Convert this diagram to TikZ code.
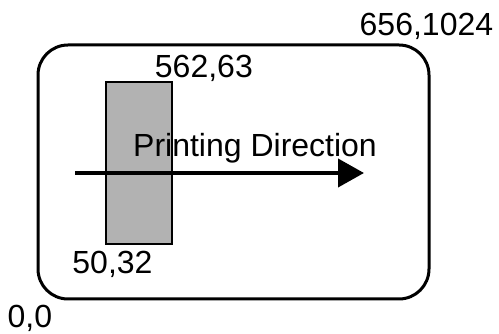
\documentclass[tikz,border=0pt]{standalone}
\usepackage{fontspec}
\setmainfont{Liberation Sans}
\usetikzlibrary{positioning, arrows.meta}

\begin{document}
\begin{tikzpicture}[x=1pt, y=1pt, card/.style={draw, line width=3pt, rounded corners=30pt, minimum width=391pt, minimum height=254pt, inner sep=0pt}, band/.style={draw, fill=black!30, line width=1.5pt, minimum width=66pt, minimum height=162pt, inner sep=0pt}, lbl/.style={inner sep=0pt, anchor=base west, font=\fontsize{32}{38}\selectfont}, dir/.style={line width=4pt, -{Triangle[length=26pt, width=28pt]}}]
		\useasboundingbox (0,0) rectangle (499,334);
		\node[card] (card) at (233.5,162) {};
		\node[band] (strip) at (139,171) {};
		\coordinate (start) at (75,161);
		\coordinate (end) at (364,161);

		\draw[dir] (start) -- (end);

		\node[lbl] (dir_label) at (133,177) {Printing Direction};
		\node[lbl] (top_label) at ([shift={(-71,8)}]card.north east) {656,1024};
		\node[lbl] (strip_top) at ([shift={(-18,4)}]strip.north east) {562,63};
		\node[lbl] (strip_bottom) at ([shift={(-33,-29)}]strip.south west) {50,32};
		\node[lbl] (origin_label) at ([shift={(-29,-27)}]card.south west) {0,0};
	\end{tikzpicture}
\end{document}
